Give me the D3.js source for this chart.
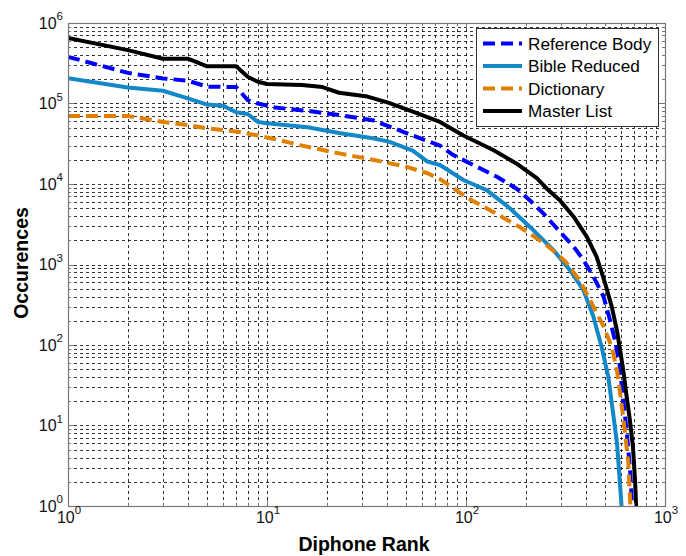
<!DOCTYPE html>
<html>
<head>
<meta charset="utf-8">
<script src="https://cdn.jsdelivr.net/npm/d3@7"></script>
<style>
  body { margin: 0; background: #fff; }
  text { font-family: "Liberation Sans", Arial, Helvetica, sans-serif; }
</style>
</head>
<body>
<div id="chart"></div>
<script>
// Data: [diphone rank, occurences]
var referenceBody = [[1,3.8e5],[2,2.4e5],[3,2.05e5],[4,1.92e5],[5,1.62e5],[7,1.6e5],[8,1.1e5],[9,1.0e5],[11,8.9e4],[16,8.1e4],[23,7.2e4],[34,6.2e4],[41,5.2e4],[54,4.0e4],[74,3.0e4],[86,2.3e4],[109,1.72e4],[143,1.23e4],[179,8.8e3],[209,6.3e3],[245,4.3e3],[296,2.56e3],[348,1.66e3],[389,1.14e3],[437,705],[491,400],[529,204],[560,115],[590,60],[616,21],[640,9],[654,5],[670,2.5],[683,1]];
var bibleReduced = [[1,2.06e5],[2,1.58e5],[3,1.44e5],[4,1.16e5],[5,9.7e4],[6,9.4e4],[7,7.8e4],[8,7.4e4],[9,5.9e4],[10,5.7e4],[16,5.06e4],[23,4.3e4],[34,3.7e4],[41,3.36e4],[54,2.6e4],[64,1.9e4],[74,1.72e4],[97,1.12e4],[127,8.4e3],[166,5.0e3],[209,2.95e3],[275,1.51e3],[333,850],[389,482],[437,224],[453,160],[480,95],[519,40],[545,16],[574,6],[593,2],[605,1]];
var dictionary = [[1,7.0e4],[2,7.0e4],[3,5.9e4],[4,5.4e4],[5,4.9e4],[7,4.5e4],[9,4.0e4],[11,3.6e4],[15,3.0e4],[23,2.4e4],[34,2.0e4],[50,1.64e4],[64,1.36e4],[74,1.15e4],[83,9.5e3],[104,6.5e3],[137,4.5e3],[187,2.9e3],[250,1.8e3],[315,1.1e3],[375,620],[437,300],[491,170],[540,95],[574,48],[616,13],[654,3.5],[670,1]];
var masterList = [[1,6.5e5],[2,4.6e5],[3,3.6e5],[4,3.6e5],[5,2.9e5],[7,2.9e5],[8,2.15e5],[9,1.86e5],[10,1.75e5],[15,1.7e5],[19,1.6e5],[23,1.36e5],[32,1.22e5],[41,1.02e5],[54,7.9e4],[74,5.9e4],[97,4.0e4],[137,2.64e4],[179,1.8e4],[227,1.18e4],[254,8.8e3],[296,6.3e3],[348,3.9e3],[405,2.2e3],[453,1.25e3],[500,585],[540,300],[574,150],[593,90],[616,50],[640,24],[665,12],[690,5.5],[707,2.1],[716,1]];

var seriesNames = ["Reference Body", "Bible Reduced", "Dictionary", "Master List"];
var xTickExps = [0, 1, 2, 3];
var yTickExps = [0, 1, 2, 3, 4, 5, 6];

var series = [
    {name: seriesNames[0], data: referenceBody, color: "#0000ff", dash: "12,6"},
    {name: seriesNames[1], data: bibleReduced, color: "#1288c8", dash: null},
    {name: seriesNames[2], data: dictionary, color: "#e08000", dash: "12,6"},
    {name: seriesNames[3], data: masterList, color: "#000000", dash: null}
];

// Set the dimensions and margins of the visual
var margin = {top: 23, right: 21, bottom: 50, left: 68},
    width = 665 - margin.left,
    height = 506 - margin.top;

var svg = d3.select("#chart").append("svg")
    .attr("width", 686)
    .attr("height", 556)
    .append("g")
    .attr("transform", "translate(" + margin.left + "," + margin.top + ")");

var x = d3.scaleLog().domain([1, 1000]).range([0, width]);
var y = d3.scaleLog().domain([1, 1e6]).range([height, 0]);

// minor + major grid values
var xGrid = [], yGrid = [];
xTickExps.forEach(function(e) {
    for (var m = 1; m < 10; m++) {
        var v = m * Math.pow(10, e);
        if (v <= 1000) xGrid.push({v: v, major: m === 1});
    }
});
yTickExps.forEach(function(e) {
    for (var m = 1; m < 10; m++) {
        var v = m * Math.pow(10, e);
        if (v <= 1e6) yGrid.push({v: v, major: m === 1});
    }
});

// Grid lines (dashed, like matlab)
var grid = svg.append("g")
    .attr("stroke", "#000")
    .attr("stroke-width", 0.8)
    .attr("stroke-dasharray", "3,3");
grid.selectAll(".gx")
    .data(xGrid.filter(function(d) { return d.v > 1 && d.v < 1000; }))
    .join("line")
    .attr("x1", function(d) { return Math.round(x(d.v)) + 0.5; })
    .attr("x2", function(d) { return Math.round(x(d.v)) + 0.5; })
    .attr("y1", 0)
    .attr("y2", height);
grid.selectAll(".gy")
    .data(yGrid.filter(function(d) { return d.v > 1 && d.v < 1e6; }))
    .join("line")
    .attr("y1", function(d) { return Math.round(y(d.v)) + 0.5; })
    .attr("y2", function(d) { return Math.round(y(d.v)) + 0.5; })
    .attr("x1", 0)
    .attr("x2", width);

// Clip for curves
svg.append("clipPath").attr("id", "clip")
    .append("rect").attr("width", width).attr("height", height + 2);

var line = d3.line()
    .x(function(d) { return x(d[0]); })
    .y(function(d) { return y(d[1]); });

svg.append("g")
    .attr("clip-path", "url(#clip)")
    .selectAll("path")
    .data(series)
    .join("path")
    .attr("d", function(d) { return line(d.data); })
    .attr("fill", "none")
    .attr("stroke", function(d) { return d.color; })
    .attr("stroke-width", 4)
    .attr("stroke-linejoin", "round")
    .attr("stroke-dasharray", function(d) { return d.dash; });

// Ticks on all four sides, pointing inwards
var ticks = svg.append("g").attr("stroke", "#777").attr("stroke-width", 1);
xGrid.forEach(function(d) {
    var len = d.major ? 6 : 3, px = Math.round(x(d.v)) + 0.5;
    ticks.append("line").attr("x1", px).attr("x2", px).attr("y1", height).attr("y2", height - len);
    ticks.append("line").attr("x1", px).attr("x2", px).attr("y1", 0).attr("y2", len);
});
yGrid.forEach(function(d) {
    var len = d.major ? 6 : 3, py = Math.round(y(d.v)) + 0.5;
    ticks.append("line").attr("y1", py).attr("y2", py).attr("x1", 0).attr("x2", len);
    ticks.append("line").attr("y1", py).attr("y2", py).attr("x1", width).attr("x2", width - len);
});

// Axes frame
svg.append("rect")
    .attr("x", 0.5).attr("y", 0.5)
    .attr("width", width).attr("height", height)
    .attr("fill", "none")
    .attr("stroke", "#777")
    .attr("stroke-width", 1.2);

// X tick labels
var xl = svg.append("g").selectAll("text")
    .data(xTickExps)
    .join("text")
    .attr("x", function(d) { return x(Math.pow(10, d)) + 1; })
    .attr("y", height + 17)
    .attr("text-anchor", "middle")
    .style("font-size", "16px")
    .attr("fill", "#111");
xl.append("tspan").text("10");
xl.append("tspan").attr("dy", -9).style("font-size", "11.5px").text(function(d) { return d; });

// Y tick labels
var yl = svg.append("g").selectAll("text")
    .data(yTickExps)
    .join("text")
    .attr("x", -5)
    .attr("y", function(d) { return y(Math.pow(10, d)) + 5.5; })
    .attr("text-anchor", "end")
    .style("font-size", "16px")
    .attr("fill", "#111");
yl.append("tspan").text("10");
yl.append("tspan").attr("dy", -8.5).style("font-size", "11.5px").text(function(d) { return d; });

// X axis label
svg.append("text")
    .attr("x", 296)
    .attr("y", height + 45)
    .attr("text-anchor", "middle")
    .style("font-size", "19.5px")
    .style("font-weight", "bold")
    .text("Diphone Rank");

// Y axis label
svg.append("text")
    .attr("transform", "rotate(-90)")
    .attr("x", -(263 - margin.top))
    .attr("y", -40)
    .attr("text-anchor", "middle")
    .style("font-size", "19.5px")
    .style("font-weight", "bold")
    .text("Occurences");

// Legend
var legend = svg.append("g").attr("transform", "translate(" + (476 - margin.left) + "," + (28 - margin.top) + ")");
legend.append("rect")
    .attr("x", 0.5).attr("y", 0.5)
    .attr("width", 182).attr("height", 98)
    .attr("fill", "#fff")
    .attr("stroke", "#333")
    .attr("stroke-width", 1);
var item = legend.selectAll(".item")
    .data(series)
    .join("g")
    .attr("transform", function(d, i) { return "translate(0," + (15.5 + i * 22.5) + ")"; });
item.append("line")
    .attr("x1", 7).attr("x2", 46)
    .attr("stroke", function(d) { return d.color; })
    .attr("stroke-width", 4)
    .attr("stroke-dasharray", function(d) { return d.dash; });
item.append("text")
    .attr("x", 52)
    .attr("y", 6)
    .style("font-size", "17.2px")
    .text(function(d) { return d.name; });
</script>
</body>
</html>
